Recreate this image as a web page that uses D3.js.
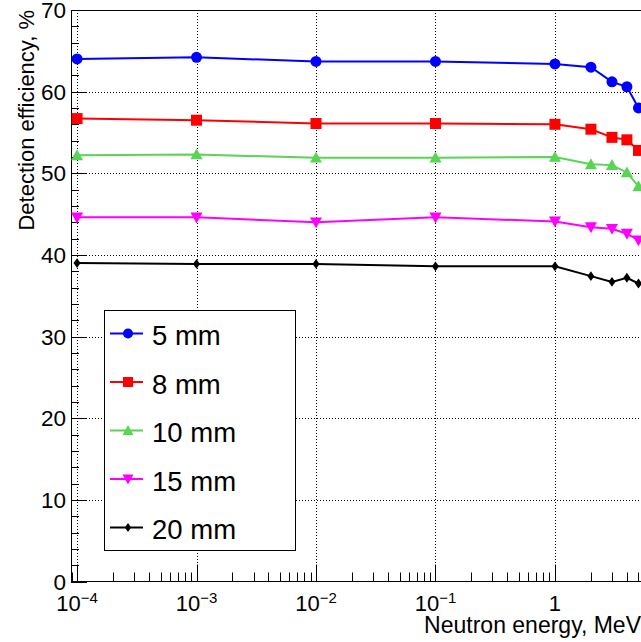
<!DOCTYPE html>
<html>
<head>
<meta charset="utf-8">
<script src="https://cdn.jsdelivr.net/npm/d3@7"></script>
<style>
  html, body { margin: 0; padding: 0; background: #fff; }
  svg { display: block; font-family: "Liberation Sans", Arial, Helvetica, sans-serif; }
</style>
</head>
<body>
<svg id="chart" width="641" height="642"></svg>
<script>
// Neutron energies (MeV)
const energies = [1e-4, 1e-3, 1e-2, 1e-1, 1, 2, 3, 4, 5];

// Detection efficiency (%) for each scintillator thickness
const eff5mm  = [64.0, 64.2, 63.7, 63.7, 63.4, 63.0, 61.2, 60.6, 58.0];
const eff8mm  = [56.7, 56.5, 56.1, 56.1, 56.0, 55.4, 54.4, 54.1, 52.8];
const eff10mm = [52.2, 52.3, 51.9, 51.9, 52.0, 51.1, 51.0, 50.1, 48.4];
const eff15mm = [44.6, 44.6, 44.0, 44.6, 44.1, 43.4, 43.2, 42.6, 41.8];
const eff20mm = [39.0, 38.9, 38.9, 38.6, 38.6, 37.4, 36.7, 37.2, 36.5];

const seriesNames = ["5 mm", "8 mm", "10 mm", "15 mm", "20 mm"];
const seriesValues = [eff5mm, eff8mm, eff10mm, eff15mm, eff20mm];
const seriesColors = ["#0000ff", "#ff0000", "#59d454", "#ff00ff", "#000000"];
const seriesMarkers = ["circle", "square", "triangleUp", "triangleDown", "diamond"];

const yTicks = [0, 10, 20, 30, 40, 50, 60, 70];
const xMajorExponents = [-4, -3, -2, -1, 0];

const xTitle = "Neutron energy, MeV";
const yTitle = "Detection efficiency, %";

// Frame geometry
const frame = { left: 71, right: 641, top: 10, bottom: 581.5 };

const svg = d3.select("#chart");

const x = d3.scaleLog().domain([8.9e-5, 5.25]).range([frame.left, frame.right]);
const y = d3.scaleLinear().domain([0, 70]).range([frame.bottom, frame.top]);

// Grid (dotted)
const grid = svg.append("g").attr("stroke", "#000").attr("stroke-width", 1)
  .attr("stroke-dasharray", "1,2").attr("fill", "none");
xMajorExponents.forEach(e => {
  const px = Math.round(x(Math.pow(10, e))) + 0.5;
  grid.append("line").attr("x1", px).attr("x2", px)
    .attr("y1", frame.top).attr("y2", frame.bottom);
});
yTicks.filter(v => v > 0 && v < 70).forEach(v => {
  const py = Math.round(y(v)) + 0.5;
  grid.append("line").attr("x1", frame.left).attr("x2", frame.right)
    .attr("y1", py).attr("y2", py);
});

// Frame
const ax = svg.append("g").attr("stroke", "#000").attr("stroke-width", 1).attr("fill", "none");
ax.append("line").attr("x1", frame.left + 0.5).attr("x2", frame.left + 0.5)
  .attr("y1", frame.top).attr("y2", frame.bottom + 0.5);
ax.append("line").attr("x1", frame.left).attr("x2", frame.right)
  .attr("y1", frame.bottom).attr("y2", frame.bottom);
ax.append("line").attr("x1", frame.left).attr("x2", frame.right)
  .attr("y1", frame.top + 0.5).attr("y2", frame.top + 0.5);

// Y ticks: major every 10, minor every 2
for (let v = 0; v <= 70; v += 2) {
  const major = v % 10 === 0;
  const py = Math.round(y(v)) + 0.5;
  ax.append("line").attr("x1", frame.left).attr("x2", frame.left + (major ? 16 : 8))
    .attr("y1", py).attr("y2", py);
}

// X ticks: decades major, k*10^n minor
const [xd0, xd1] = x.domain();
for (let e = -5; e <= 1; e++) {
  for (let k = 1; k <= 9; k++) {
    const v = k * Math.pow(10, e);
    if (v < xd0 || v > xd1) continue;
    const px = Math.round(x(v)) + 0.5;
    ax.append("line").attr("x1", px).attr("x2", px)
      .attr("y1", frame.bottom).attr("y2", frame.bottom - (k === 1 ? 17 : 9));
  }
}

// Y tick labels
const labels = svg.append("g").attr("fill", "#000");
yTicks.forEach(v => {
  labels.append("text").attr("x", 66).attr("y", y(v)).attr("dy", "0.36em")
    .attr("text-anchor", "end").attr("font-size", 22.5).text(v);
});

// X tick labels (10^n, with "1" for 10^0)
xMajorExponents.forEach(e => {
  const px = x(Math.pow(10, e));
  const t = labels.append("text").attr("x", px).attr("y", 611)
    .attr("text-anchor", "middle").attr("font-size", 22);
  if (e === 0) {
    t.text("1");
  } else {
    t.append("tspan").text("10");
    t.append("tspan").attr("font-size", 15).attr("dy", -8).text("\u2212" + Math.abs(e));
  }
});

// Axis titles
labels.append("text").attr("x", 641).attr("y", 633).attr("text-anchor", "end")
  .attr("font-size", 23).text(xTitle);
labels.append("text").attr("transform", "translate(34,10) rotate(-90)")
  .attr("text-anchor", "end").attr("font-size", 22).text(yTitle);

// Marker shapes
function markerPath(type, s) {
  switch (type) {
    case "circle": return d3.symbol(d3.symbolCircle, Math.PI * s * s / 4)();
    case "square": { const h = s / 2; return `M${-h},${-h}H${h}V${h}H${-h}Z`; }
    case "triangleUp": { const h = s * 0.55; return `M0,${-h}L${h},${h * 0.8}L${-h},${h * 0.8}Z`; }
    case "triangleDown": { const h = s * 0.55; return `M0,${h}L${h},${-h * 0.8}L${-h},${-h * 0.8}Z`; }
    case "diamond": { const w = s * 0.32, h = s * 0.45; return `M0,${-h}L${w},0L0,${h}L${-w},0Z`; }
  }
}

// Series
const plot = svg.append("g");
const line = d3.line().x(d => x(d[0])).y(d => y(d[1]));
seriesValues.forEach((vals, i) => {
  const pts = energies.map((e, j) => [e, vals[j]]);
  plot.append("path").datum(pts).attr("d", line)
    .attr("fill", "none").attr("stroke", seriesColors[i]).attr("stroke-width", 2);
  plot.append("g").selectAll("path").data(pts).join("path")
    .attr("transform", d => `translate(${x(d[0])},${y(d[1])})`)
    .attr("d", markerPath(seriesMarkers[i], 11))
    .attr("fill", seriesColors[i]);
});

// Legend
const legend = svg.append("g");
legend.append("rect").attr("x", 104.5).attr("y", 310.5).attr("width", 191).attr("height", 240)
  .attr("fill", "#fff").attr("stroke", "#000").attr("stroke-width", 1);
seriesNames.forEach((name, i) => {
  const cy = 333.5 + i * 48.5;
  legend.append("line").attr("x1", 110).attr("x2", 143).attr("y1", cy).attr("y2", cy)
    .attr("stroke", seriesColors[i]).attr("stroke-width", 2);
  legend.append("path").attr("transform", `translate(128,${cy})`)
    .attr("d", markerPath(seriesMarkers[i], 10)).attr("fill", seriesColors[i]);
  legend.append("text").attr("x", 152).attr("y", cy + 11.5).attr("font-size", 27.5)
    .attr("fill", "#000").text(name);
});
</script>
</body>
</html>
